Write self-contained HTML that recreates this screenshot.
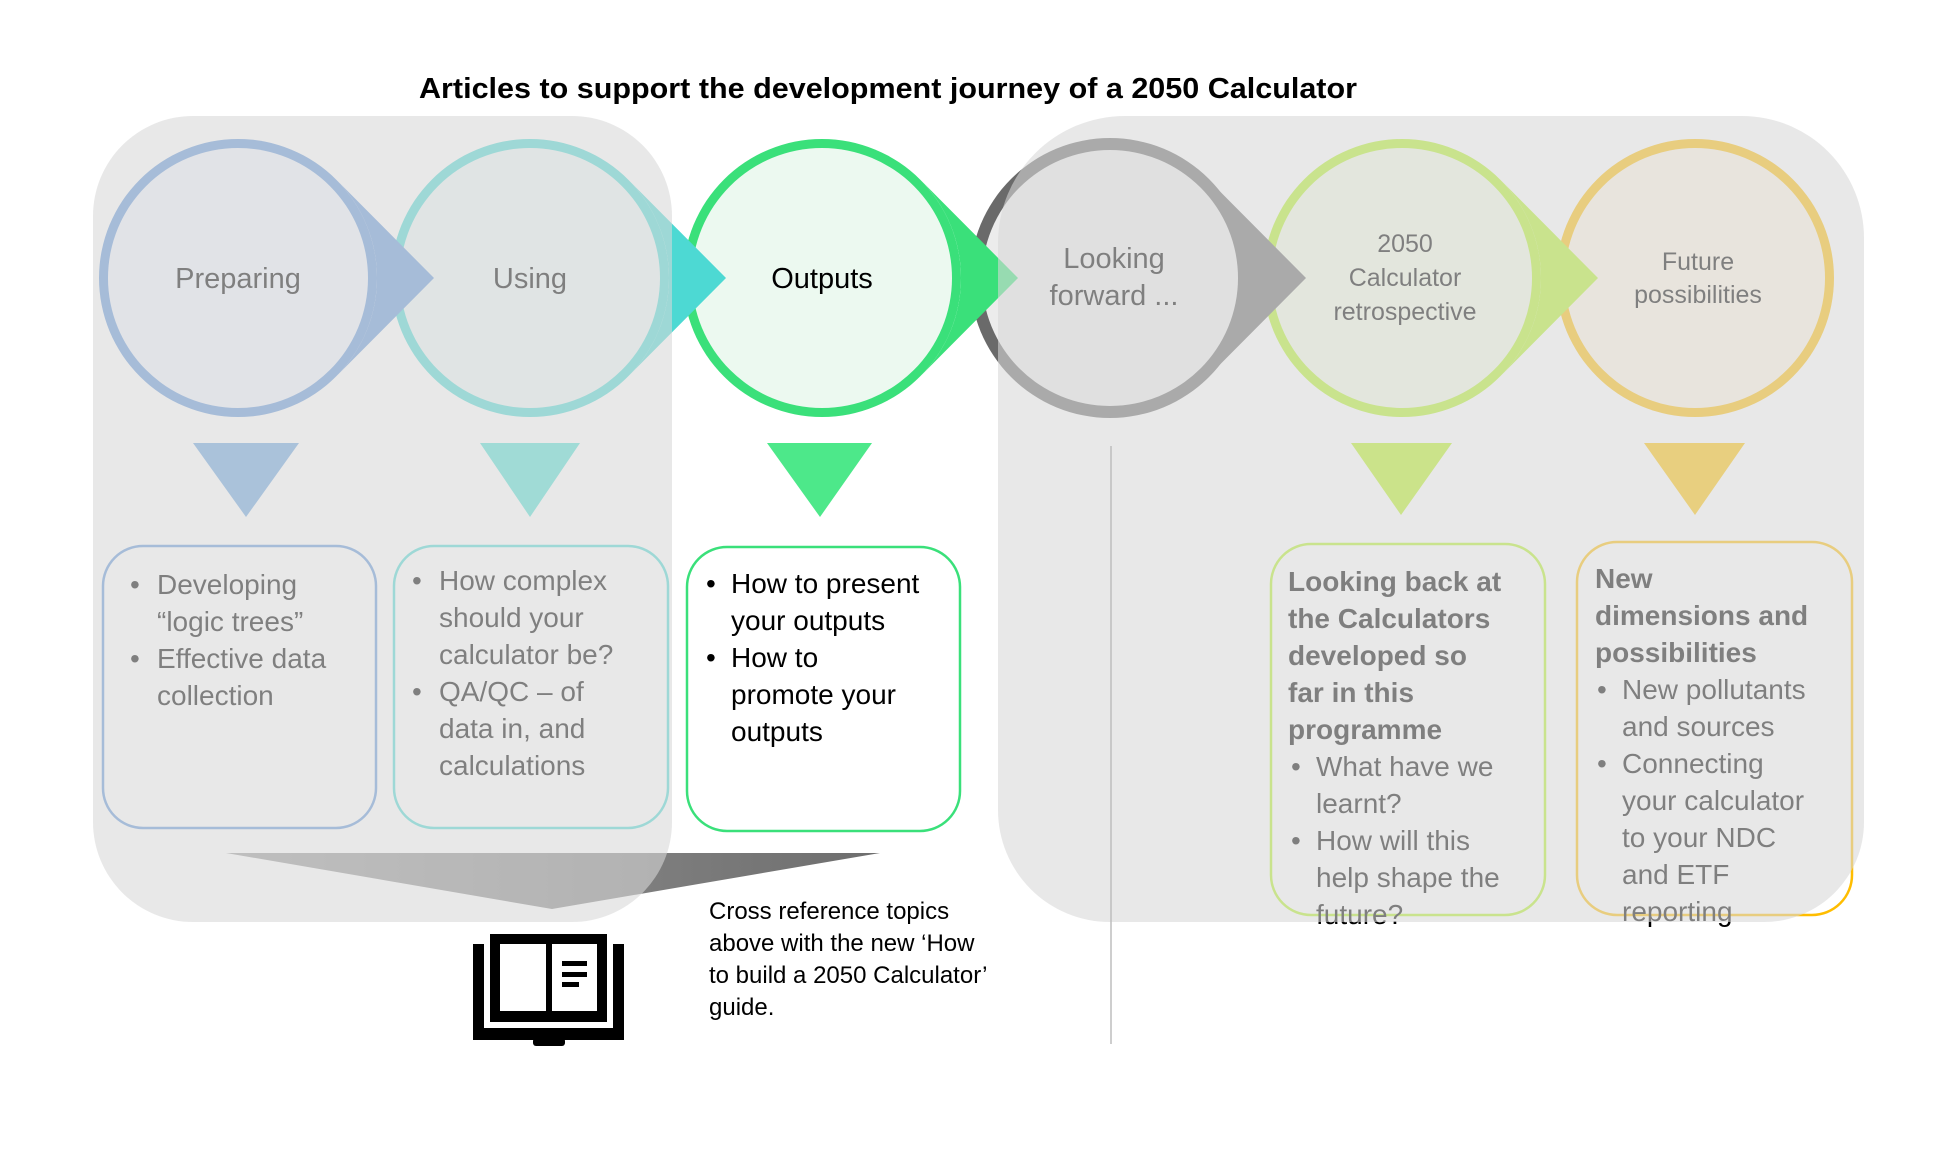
<!DOCTYPE html>
<html><head><meta charset="utf-8"><style>
html,body{margin:0;padding:0;background:#fff;}
svg{display:block;}
.t{font-family:"Liberation Sans",sans-serif;}
</style></head><body>
<svg width="1934" height="1160" viewBox="0 0 1934 1160" xmlns="http://www.w3.org/2000/svg">
<defs>
<linearGradient id="fg" x1="0" y1="0" x2="1" y2="0">
<stop offset="0" stop-color="#9a9a9a"/><stop offset="1" stop-color="#6e6e6e"/>
</linearGradient>
</defs>
<text x="419" y="98" textLength="938" lengthAdjust="spacingAndGlyphs" class="t" font-weight="bold" font-size="29" fill="#000">Articles to support the development journey of a 2050 Calculator</text>

<g>
<circle cx="238" cy="278" r="139" fill="#6094d8"/><circle cx="238" cy="278" r="130" fill="#eef3fd"/>
<circle cx="530" cy="278" r="139" fill="#4dd9d3"/><circle cx="530" cy="278" r="130" fill="#ebf5f5"/>
<circle cx="822" cy="278" r="139" fill="#3ae07a"/><circle cx="822" cy="278" r="130" fill="#ecf9f0"/>
<circle cx="1110" cy="278" r="140" fill="#6a6a6a"/><circle cx="1110" cy="278" r="128" fill="#ececec"/>
<circle cx="1402" cy="278" r="139" fill="#b4f324"/><circle cx="1402" cy="278" r="130" fill="#f3fae5"/>
<circle cx="1695" cy="278" r="139" fill="#ffbd00"/><circle cx="1695" cy="278" r="130" fill="#fff6e5"/>
</g>
<g>
<path d="M336.6 180 L434 278 L336.6 376 A139 139 0 0 0 336.6 180 Z" fill="#6094d8"/>
<path d="M628.6 180 L726 278 L628.6 376 A139 139 0 0 0 628.6 180 Z" fill="#4dd9d3"/>
<path d="M920.6 180 L1018 278 L920.6 376 A139 139 0 0 0 920.6 180 Z" fill="#3ae07a"/>
<path d="M1208.6 180 L1306 278 L1208.6 376 A139 139 0 0 0 1208.6 180 Z" fill="#6a6a6a"/>
<path d="M1500.6 180 L1598 278 L1500.6 376 A139 139 0 0 0 1500.6 180 Z" fill="#b4f324"/>
</g>
<g class="t" text-anchor="middle" fill="#000">
<text x="238" y="288" font-size="29">Preparing</text>
<text x="530" y="288" font-size="29">Using</text>
<text x="822" y="288" font-size="29">Outputs</text>
<text x="1114" y="268" font-size="29">Looking</text>
<text x="1114" y="305" font-size="29">forward ...</text>
<text x="1405" y="252" font-size="25">2050</text>
<text x="1405" y="286" font-size="25">Calculator</text>
<text x="1405" y="320" font-size="25">retrospective</text>
<text x="1698" y="270" font-size="25">Future</text>
<text x="1698" y="303" font-size="25">possibilities</text>
</g>
<polygon points="193,443 299,443 246,517" fill="#6aa2dd"/>
<polygon points="480,443 580,443 530,517" fill="#50dfd3"/>
<polygon points="767,443 872,443 820,517" fill="#4de88a"/>
<polygon points="1351,443 1452,443 1401,515" fill="#b8f31c"/>
<polygon points="1644,443 1745,443 1695,515" fill="#ffc200"/>
<rect x="103" y="546" width="273" height="282" rx="40" fill="none" stroke="#6094d8" stroke-width="2.5"/>
<rect x="394" y="546" width="274" height="282" rx="40" fill="none" stroke="#4dd9d3" stroke-width="2.5"/>
<rect x="687" y="547" width="273" height="284" rx="40" fill="#fff" stroke="#3ae07a" stroke-width="2.5"/>
<rect x="1271" y="544" width="274" height="371" rx="40" fill="none" stroke="#b4f324" stroke-width="2.5"/>
<rect x="1577" y="542" width="275" height="373" rx="40" fill="none" stroke="#ffbd00" stroke-width="2.5"/>
<g class="t" font-size="28" fill="#000">
<text x="130" y="594">•</text><text x="157" y="594">Developing</text>
<text x="157" y="631">“logic trees”</text>
<text x="130" y="668">•</text><text x="157" y="668">Effective data</text>
<text x="157" y="705">collection</text>

<text x="412" y="590">•</text><text x="439" y="590">How complex</text>
<text x="439" y="627">should your</text>
<text x="439" y="664">calculator be?</text>
<text x="412" y="701">•</text><text x="439" y="701">QA/QC – of</text>
<text x="439" y="738">data in, and</text>
<text x="439" y="775">calculations</text>

<text x="706" y="593">•</text><text x="731" y="593">How to present</text>
<text x="731" y="630">your outputs</text>
<text x="706" y="667">•</text><text x="731" y="667">How to</text>
<text x="731" y="704">promote your</text>
<text x="731" y="741">outputs</text>

<g font-weight="bold">
<text x="1288" y="591">Looking back at</text>
<text x="1288" y="628">the Calculators</text>
<text x="1288" y="665">developed so</text>
<text x="1288" y="702">far in this</text>
<text x="1288" y="739">programme</text>
<text x="1595" y="588">New</text>
<text x="1595" y="625">dimensions and</text>
<text x="1595" y="662">possibilities</text>
</g>
<text x="1291" y="776">•</text><text x="1316" y="776">What have we</text>
<text x="1316" y="813">learnt?</text>
<text x="1291" y="850">•</text><text x="1316" y="850">How will this</text>
<text x="1316" y="887">help shape the</text>
<text x="1316" y="924">future?</text>
<text x="1597" y="699">•</text><text x="1622" y="699">New pollutants</text>
<text x="1622" y="736">and sources</text>
<text x="1597" y="773">•</text><text x="1622" y="773">Connecting</text>
<text x="1622" y="810">your calculator</text>
<text x="1622" y="847">to your NDC</text>
<text x="1622" y="884">and ETF</text>
<text x="1622" y="921">reporting</text>
</g>
<polygon points="226,853 880,853 552,909" fill="url(#fg)"/>
<path d="M193 116 H572 A100 100 0 0 1 672 216 V822 A100 100 0 0 1 572 922 H193 A100 100 0 0 1 93 822 V216 A100 100 0 0 1 193 116 Z" fill="rgb(216,216,216)" fill-opacity="0.59"/>
<path d="M1125 116 H1742 A122 122 0 0 1 1864 238 V822 A100 100 0 0 1 1764 922 H1110 A112 112 0 0 1 998 810 V243 A127 127 0 0 1 1125 116 Z" fill="rgb(216,216,216)" fill-opacity="0.59"/>
<line x1="1111" y1="446" x2="1111" y2="1044" stroke="#bdbdbd" stroke-width="1.5"/>
<g fill="#000">
<rect x="473" y="944" width="11" height="96"/>
<rect x="613" y="944" width="11" height="96"/>
<rect x="473" y="1028" width="151" height="12"/>
<rect x="533" y="1038" width="32" height="8" rx="3"/>
<rect x="490" y="934" width="117" height="88"/>
<rect x="500" y="944" width="46" height="67" fill="#fff"/>
<rect x="552" y="944" width="45" height="67" fill="#fff"/>
<rect x="562" y="961" width="25" height="5"/>
<rect x="562" y="972" width="25" height="5"/>
<rect x="562" y="982" width="17" height="5"/>
</g>
<g class="t" font-size="24" fill="#000">
<text x="709" y="919">Cross reference topics</text>
<text x="709" y="951">above with the new ‘How</text>
<text x="709" y="983">to build a 2050 Calculator’</text>
<text x="709" y="1015">guide.</text>
</g>
</svg>
</body></html>
